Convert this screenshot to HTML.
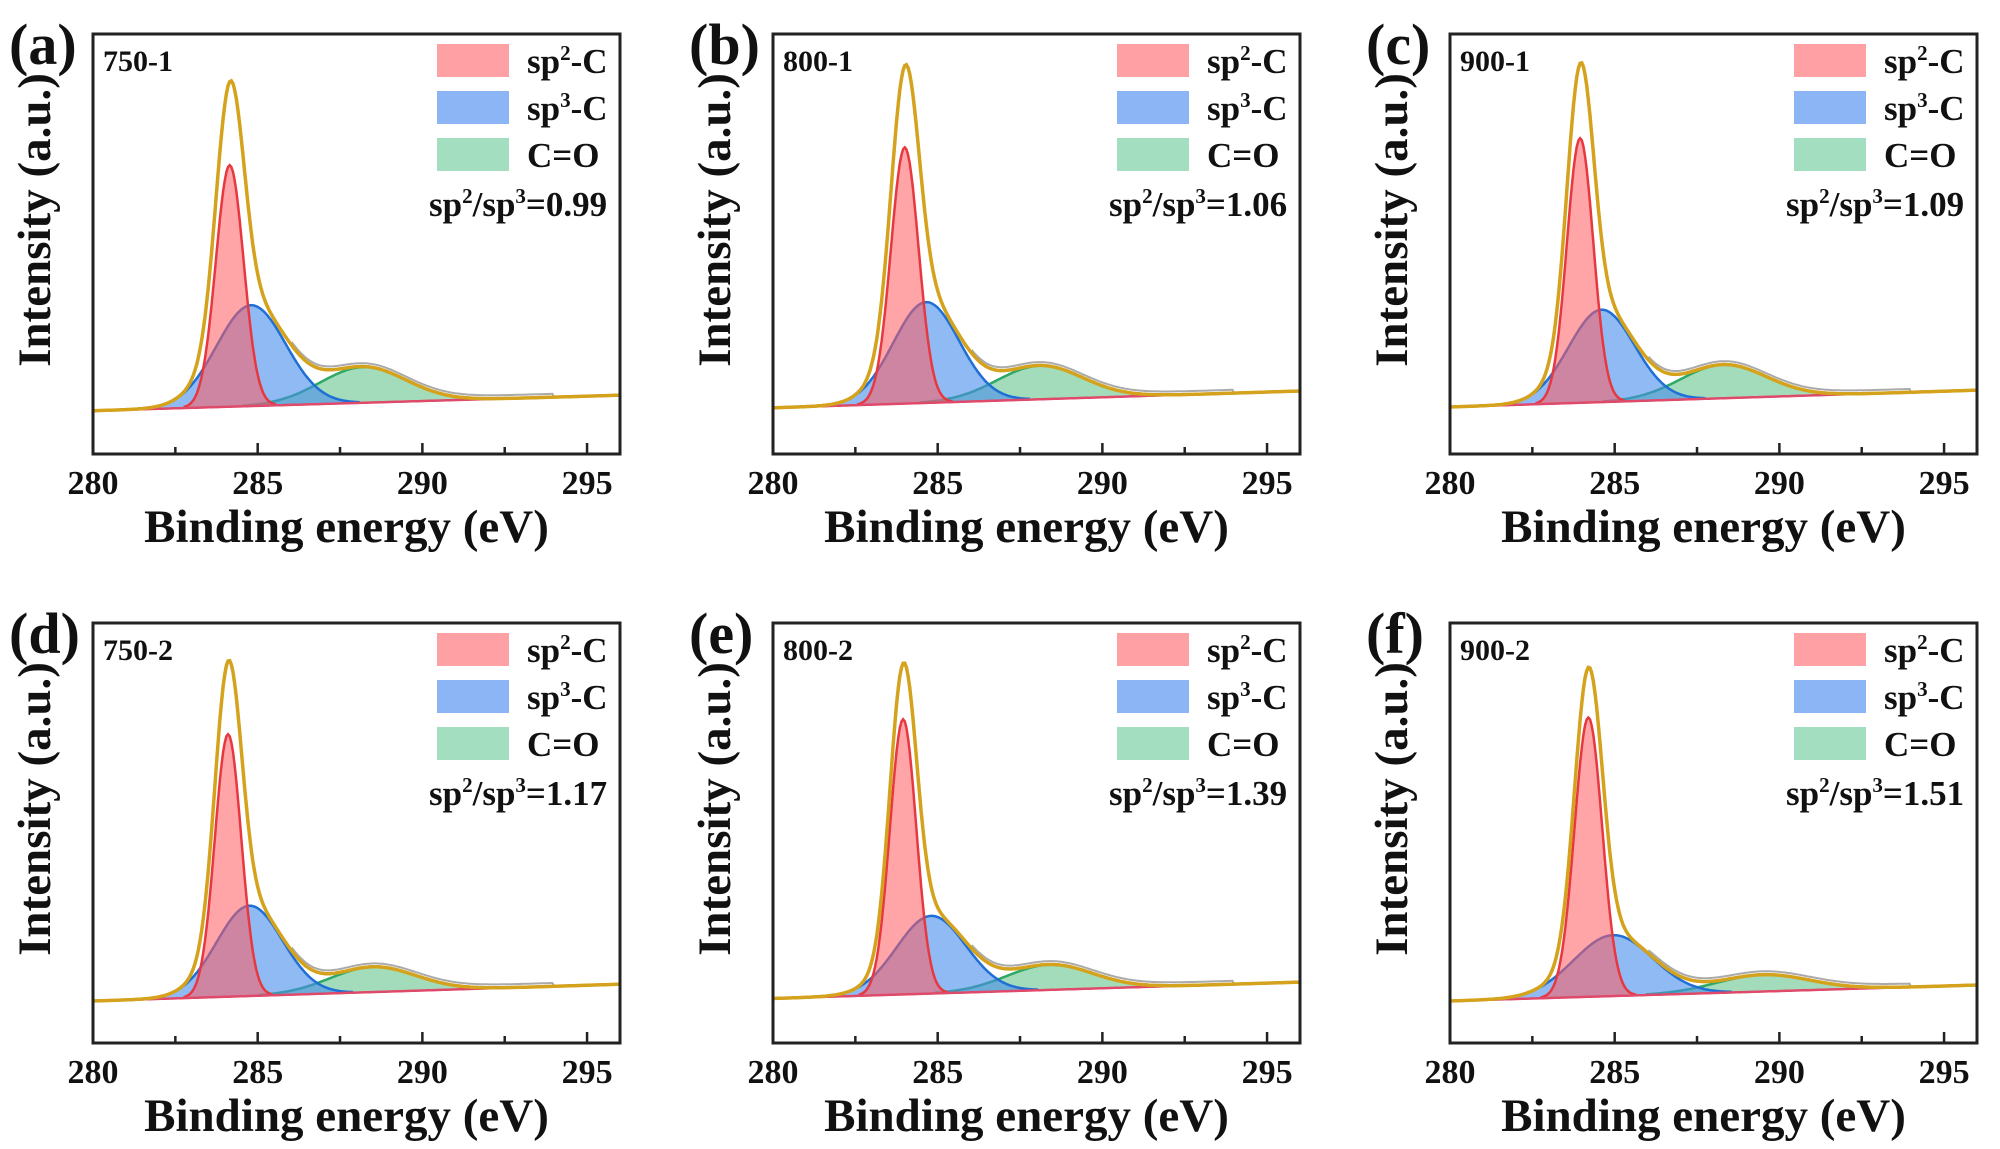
<!DOCTYPE html>
<html><head><meta charset="utf-8">
<style>
html,body{margin:0;padding:0;background:#fff;}
svg{display:block;}
text{font-family:"Liberation Serif",serif;font-weight:bold;fill:#111;}
</style></head>
<body>
<svg id="fig" width="2000" height="1149" viewBox="0 0 2000 1149" xmlns="http://www.w3.org/2000/svg"></svg>
<script>
// ---- data (binding energy eV, intensity a.u.) ----
const panelLetters = ["(a)","(b)","(c)","(d)","(e)","(f)"];
const sampleNames = ["750-1","800-1","900-1","750-2","800-2","900-2"];
const ratioLabels = ["0.99","1.06","1.09","1.17","1.39","1.51"];
const xTicks = [280,285,290,295];
const sp2Center = [284.15,284.0,283.95,284.1,283.95,284.2];
const sp2Height = [0.575,0.61,0.63,0.625,0.655,0.665];
const sp2Sigma  = [0.42,0.42,0.40,0.40,0.40,0.42];
const sp3Center = [284.8,284.65,284.6,284.75,284.8,284.95];
const sp3Height = [0.24,0.24,0.22,0.215,0.185,0.145];
const sp3Sigma  = [1.05,1.0,1.0,1.0,1.05,1.2];
const coCenter  = [288.2,288.1,288.3,288.5,288.4,289.5];
const coHeight  = [0.085,0.08,0.08,0.06,0.06,0.04];
const coSigma   = [1.3,1.3,1.3,1.3,1.3,1.4];
const baseLeft  = [0.103,0.11,0.112,0.10,0.106,0.10];
const baseRight = [0.14,0.15,0.152,0.14,0.145,0.138];

const NS="http://www.w3.org/2000/svg";
const svg=document.getElementById('fig');
function mk(tag,attrs,parent){const e=document.createElementNS(NS,tag);for(const k in attrs)e.setAttribute(k,attrs[k]);(parent||svg).appendChild(e);return e;}

const colLeft=[93,773,1450], W=527, rowTop=[34,623], H=420;
const xMin=280,xMax=296;

function gauss(x,c,h,s){return h*Math.exp(-0.5*((x-c)/s)**2);}

for(let i=0;i<6;i++){
  const L=colLeft[i%3], T=rowTop[Math.floor(i/3)], B=T+H;
  const xs=v=>L+(v-xMin)/(xMax-xMin)*W;
  const ys=v=>B-v*H;
  const base=x=>baseLeft[i]+(baseRight[i]-baseLeft[i])*(x-xMin)/(xMax-xMin);
  const g=mk('g',{});
  
  

  const comps=[
    {name:'sp2',c:sp2Center[i],h:sp2Height[i],s:sp2Sigma[i],fill:'rgba(255,90,95,0.55)',stroke:'#e8383f'},
    {name:'sp3',c:sp3Center[i],h:sp3Height[i],s:sp3Sigma[i],fill:'rgba(70,140,235,0.6)',stroke:'#1f6fd6'},
    {name:'co',c:coCenter[i],h:coHeight[i],s:coSigma[i],fill:'rgba(70,185,120,0.5)',stroke:'#2ea866'}
  ];
  const N=320;
  [2,1,0].forEach(k=>{
    const cp=comps[k];
    let top=[],bot=[];
    for(let j=0;j<=N;j++){
      const x=xMin+(xMax-xMin)*j/N;
      if(x<280.8) continue;
      const v=gauss(x,cp.c,cp.h,cp.s);
      if(v<0.0015 && Math.abs(x-cp.c)>cp.s) continue;
      top.push([xs(x),ys(base(x)+v)]);bot.push([xs(x),ys(base(x))]);
    }
    const d='M'+top.map(p=>p[0].toFixed(1)+','+p[1].toFixed(1)).join('L')+'L'+bot.reverse().map(p=>p[0].toFixed(1)+','+p[1].toFixed(1)).join('L')+'Z';
    const a=mk('path',{d:d,fill:cp.fill,stroke:'none'},g);
    
    
    const l=mk('path',{d:'M'+top.map(p=>p[0].toFixed(1)+','+p[1].toFixed(1)).join('L'),fill:'none',stroke:cp.stroke,'stroke-width':2.5},g);
    
    
  });
  let bl=[];for(let j=0;j<=N;j++){const x=280.8+(xMax-280.8)*j/N;bl.push(xs(x).toFixed(1)+','+ys(base(x)).toFixed(1));}
  const bp=mk('path',{d:'M'+bl.join('L'),fill:'none',stroke:'#e04a6a','stroke-width':2.5},g);
  
  
  let raw=[],env=[];
  for(let j=0;j<=N;j++){
    const x=xMin+(xMax-xMin)*j/N;
    const t=base(x)+comps.reduce((s,cp)=>s+gauss(x,cp.c,cp.h,cp.s),0);
    env.push(xs(x).toFixed(1)+','+ys(t).toFixed(1));
    const bump=(x>286&&x<294)?0.008:0;
    raw.push(xs(x).toFixed(1)+','+ys(t+bump).toFixed(1));
  }
  const rp=mk('path',{d:'M'+raw.join('L'),fill:'none',stroke:'#aaa','stroke-width':2},g);
  
  
  const ep=mk('path',{d:'M'+env.join('L'),fill:'none',stroke:'#d4a21c','stroke-width':3.5},g);
  
  

  const fr=mk('rect',{x:L,y:T,width:W,height:H,fill:'none',stroke:'#222','stroke-width':3},g);
  
  
  for(let v=280;v<=296;v+=2.5){
    const major=(v%5===0);
    const tk=mk('line',{x1:xs(v),x2:xs(v),y1:B,y2:B-(major?11:7),stroke:'#222','stroke-width':2.5},g);
    
    
  }
  xTicks.forEach(v=>{
    const t=mk('text',{x:xs(v),y:B+40,'font-size':34,'text-anchor':'middle'},g);t.textContent=v;
    
    
  });
  const xt=mk('text',{x:L+W/2-10,y:B+88,'font-size':47,'text-anchor':'middle'},g);xt.textContent='Binding energy (eV)';
  
  
  const yt=mk('text',{x:0,y:0,'font-size':47,'text-anchor':'middle',transform:`translate(${L-43},${T+186}) rotate(-90)`},g);yt.textContent='Intensity (a.u.)';
  
  
  const pl=mk('text',{x:L-84,y:T+30,'font-size':58},g);pl.textContent=panelLetters[i];
  
  
  const sn=mk('text',{x:L+10,y:T+37,'font-size':30},g);sn.textContent=sampleNames[i];
  
  
  const legTxt=[['sp','2','-C'],['sp','3','-C'],['C=O','','']];
  const legCol=['rgba(255,120,125,0.7)','rgba(90,150,240,0.7)','rgba(90,195,140,0.55)'];
  legTxt.forEach((lt,k)=>{
    const yy=T+10+k*47;
    const r=mk('rect',{x:L+344,y:yy,width:72,height:33,fill:legCol[k]},g);
    
    
    const t=mk('text',{x:L+434,y:yy+29,'font-size':35},g);
    
    
    t.appendChild(document.createTextNode(lt[0]));
    if(lt[1]){const s=mk('tspan',{dy:-13,'font-size':21},t);s.textContent=lt[1];const s2=mk('tspan',{dy:13},t);s2.textContent=lt[2];}
  });
  const rt=mk('text',{x:L+336,y:T+182,'font-size':35},g);
  
  
  rt.appendChild(document.createTextNode('sp'));
  let s=mk('tspan',{dy:-13,'font-size':21},rt);s.textContent='2';
  s=mk('tspan',{dy:13},rt);s.textContent='/sp';
  s=mk('tspan',{dy:-13,'font-size':21},rt);s.textContent='3';
  s=mk('tspan',{dy:13},rt);s.textContent='='+ratioLabels[i];
}
</script>
</body></html>
